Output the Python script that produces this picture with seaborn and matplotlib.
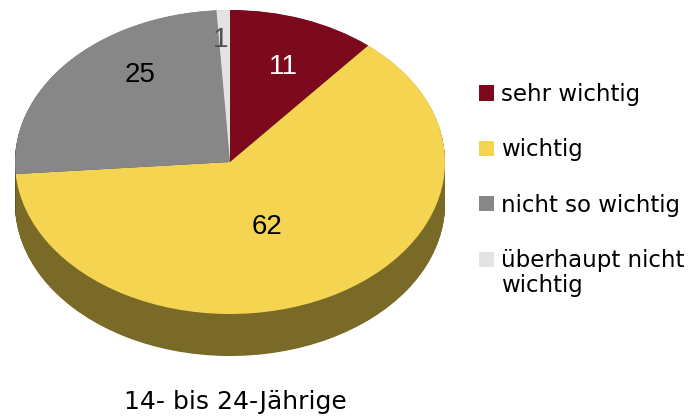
import numpy as np
import matplotlib
matplotlib.use("Agg")
import matplotlib.pyplot as plt
import seaborn as sns
from matplotlib.colors import to_rgb
from matplotlib.patches import Patch

# ---- data ----
categories = ["sehr wichtig", "wichtig", "nicht so wichtig", "überhaupt nicht\nwichtig"]
values = [11, 62, 25, 1]
colors = ["#7d0a1c", "#f4d450", "#878787", "#e3e3e3"]
label_colors = ["white", "black", "black", "#505050"]
label_xy = [(0.247, 0.625), (0.172, -0.43), (-0.419, 0.572), (-0.042, 0.80)]
title = "14- bis 24-Jährige"

sns.set_theme(style="white")
plt.rcParams['font.family'] = ['DejaVu Sans']
plt.rcParams['text.color'] = 'black'

W, H = 689, 418
fig = plt.figure(figsize=(W / 100, H / 100), dpi=100)
fig.patch.set_facecolor("white")

cx, cy, rx, ry, depth_px = 230, 162, 215, 152, 42
L = 1.05
depth = depth_px / ry
left = cx - L * rx
right = cx + L * rx
top = cy - L * ry
bottom = cy + (L + depth) * ry
ax = fig.add_axes([left / W, 1 - bottom / H, (right - left) / W, (bottom - top) / H])

side_colors = [tuple(c * 0.5 for c in to_rgb(col)) for col in colors]
for d in np.linspace(depth, 0.002, 70):
    ax.pie(values, colors=side_colors, startangle=90, counterclock=False,
           center=(0, -d), radius=1, wedgeprops=dict(linewidth=0))

wedges, texts = ax.pie(values, colors=colors, startangle=90, counterclock=False,
                       labels=[str(v) for v in values], labeldistance=0.6,
                       radius=1, wedgeprops=dict(linewidth=0))
for t, c, xy in zip(texts, label_colors, label_xy):
    t.set_position(xy)
    t.set_ha("center")
    t.set_va("center")
    t.set_color(c)
    t.set_fontsize(20)
    t.set_family(["Liberation Sans", "DejaVu Sans"])

ax.set_xlim(-L, L)
ax.set_ylim(-L - depth, L)
ax.set_aspect("auto")
ax.axis("off")

fs = 16.5
handles = [Patch(facecolor=c, edgecolor="none") for c in colors]
leg = fig.legend(handles=handles, labels=categories, loc="upper left",
                 bbox_to_anchor=(479 / W, 1 - 83 / H), frameon=False, fontsize=fs,
                 handlelength=0.66, handleheight=0.66, handletextpad=0.29,
                 labelspacing=1.41, borderaxespad=0, borderpad=0)
for t in leg.get_texts():
    t.set_linespacing(1.14)
    t.set_color("black")
# align the handle of the two-line entry with its first line
rect = leg.legend_handles[3]
rect.set_y(rect.get_y() + 10.5)

fig.text(235 / W, 1 - 402 / H, title, ha="center", va="center", fontsize=18, color="black")

fig.savefig("out.png", dpi=100, facecolor="white")
